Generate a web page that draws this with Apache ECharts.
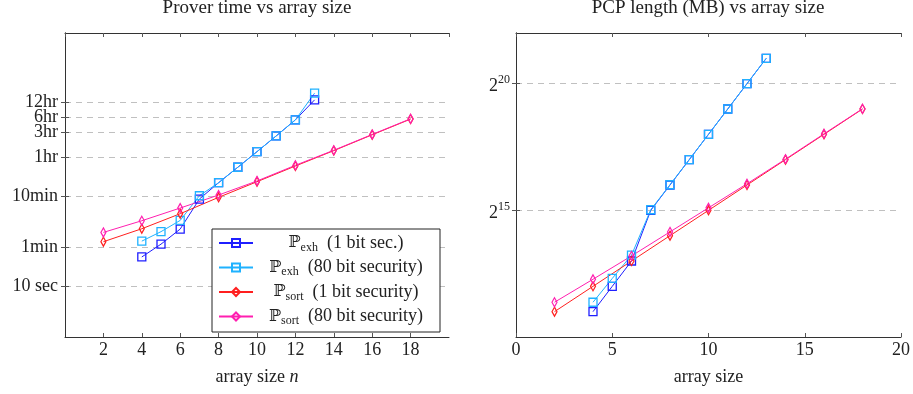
<!DOCTYPE html>
<html>
<head>
<meta charset="utf-8">
<script src="https://cdn.jsdelivr.net/npm/echarts@6/dist/echarts.min.js"></script>
<style>
html,body{margin:0;padding:0;background:#fff;}
#chart{width:913px;height:394px;}
</style>
</head>
<body>
<div id="chart"></div>
<script>
// ---- data ----
const seriesNames = ['exh1', 'exh80', 'sort1', 'sort80'];
const xExh = [4, 5, 6, 7, 8, 9, 10, 11, 12, 13];
const xSort = [2, 4, 6, 8, 10, 12, 14, 16, 18];
// prover time in seconds
const timeExh1 = [38, 68, 135, 528, 1110, 2240, 4550, 9300, 19300, 47900];
const timeExh80 = [78, 120, 200, 614, 1110, 2240, 4550, 9300, 19300, 65000];
const timeSort1 = [76, 137, 271, 571, 1160, 2370, 4770, 9800, 20000];
const timeSort80 = [116, 197, 351, 634, 1200, 2450, 4850, 9950, 20300];
// PCP length
const pcpExh1 = [2048, 4096, 8192, 32768, 65536, 131072, 262144, 524288, 1048576, 2097152];
const pcpExh80 = [2650, 5080, 9610, 33300, 66000, 131072, 262144, 524288, 1048576, 2097152];
const pcpSort1 = [2048, 4096, 8192, 16384, 32768, 65536, 131072, 262144, 524288];
const pcpSort80 = [2650, 4970, 9410, 18170, 35100, 67800, 133000, 265800, 528000];
// tick labels
const timeTickValues = [10, 60, 600, 3600, 10800, 21600, 43200];
const timeTickLabels = ['10 sec', '1min', '10min', '1hr', '3hr', '6hr', '12hr'];
const pcpTickValues = [32768, 1048576];
const pcpTickExponents = ['15', '20'];

// ---- styling ----
const FONT = 'Liberation Serif';
const colors = {exh1: '#1f1fff', exh80: '#1fb2ff', sort1: '#ff1f1f', sort80: '#ff1fb0'};
const legendRich = {
  p: {fontFamily: 'DejaVu Serif', fontSize: 16, color: '#222', align: 'center'},
  s: {fontFamily: FONT, fontSize: 12, color: '#222', padding: [9, 0, 0, 0], align: 'center'},
  t: {fontFamily: FONT, fontSize: 18, color: '#222', align: 'center'}
};
const legendText = {
  exh1: '{p|ℙ}{s|exh}{t|  (1 bit sec.)}',
  exh80: '{p|ℙ}{s|exh}{t|  (80 bit security)}',
  sort1: '{p|ℙ}{s|sort}{t|  (1 bit security)}',
  sort80: '{p|ℙ}{s|sort}{t|  (80 bit security)}'
};

function zip(xs, ys) { return xs.map((x, i) => [x, ys[i]]); }
function mk(name, xs, ys, axisIdx, symbol) {
  const isRect = symbol === 'rect';
  return {
    name: name, type: 'line', xAxisIndex: axisIdx, yAxisIndex: axisIdx,
    data: zip(xs, ys),
    symbol: symbol, symbolSize: isRect ? 8 : [5, 9],
    showAllSymbol: true,
    lineStyle: {color: colors[name], width: 1},
    itemStyle: {color: 'rgba(255,255,255,0)', borderColor: colors[name], borderWidth: 1.3},
    emphasis: {disabled: true},
    animation: false
  };
}

const labelStyle = {fontFamily: FONT, fontSize: 18, color: '#222'};
const lineAxis = {show: true, lineStyle: {color: '#333', width: 1}};
const tickIn = {show: true, inside: true, length: 4, lineStyle: {color: '#555'}};
const dashed = {show: true, lineStyle: {color: '#c0c0c0', type: [6, 5], width: 1}};

function nearestLabel(v, vals, labels) {
  let best = 0;
  for (let i = 1; i < vals.length; i++) {
    if (Math.abs(Math.log(vals[i]) - Math.log(v)) < Math.abs(Math.log(vals[best]) - Math.log(v))) best = i;
  }
  return labels[best];
}
// labels split over two overlapping left axes so that neighbouring labels are never auto-hidden
const timeLabelsMain = timeTickValues.filter((v, i) => i % 2 === 0 || i === timeTickValues.length - 2 ? i !== timeTickValues.length - 2 : true);
const timeLabelsMainVals = [10, 60, 600, 3600, 10800, 43200].filter(v => timeTickValues.includes(v));
const timeLabelsExtraVals = timeTickValues.filter(v => !timeLabelsMainVals.includes(v));

const option = {
  backgroundColor: '#fff',
  animation: false,
  title: [
    {text: 'Prover time vs array size', left: 257, textAlign: 'center', top: -1, padding: 0,
     textStyle: {fontFamily: FONT, fontSize: 19, fontWeight: 'normal', color: '#222'}},
    {text: 'PCP length (MB) vs array size', left: 708, textAlign: 'center', top: -1, padding: 0,
     textStyle: {fontFamily: FONT, fontSize: 19, fontWeight: 'normal', color: '#222'}}
  ],
  grid: [
    {left: 65, right: 464, top: 33, bottom: 57, containLabel: false, outerBoundsMode: 'none'},
    {left: 516, right: 12, top: 33, bottom: 57, containLabel: false, outerBoundsMode: 'none'}
  ],
  legend: {
    data: seriesNames,
    orient: 'vertical', left: 212, top: 229,
    width: 225,
    padding: [5, 6, 5, 6],
    itemGap: 5, itemWidth: 34, itemHeight: 10,
    backgroundColor: '#fff', borderColor: '#222', borderWidth: 1, borderRadius: 0,
    selectedMode: false,
    formatter: n => legendText[n],
    textStyle: {width: 176, lineHeight: 18, rich: legendRich}
  },
  xAxis: [
    {gridIndex: 0, type: 'value', min: 0, max: 20, interval: 2, position: 'bottom',
     axisLine: lineAxis, axisTick: tickIn, splitLine: {show: false},
     axisLabel: Object.assign({margin: 4, showMinLabel: false, showMaxLabel: false,
       formatter: v => (v === 0 || v === 20) ? '' : String(v)}, labelStyle),
     name: '{a|array size }{n|n}', nameLocation: 'middle', nameGap: 31,
     nameTextStyle: {rich: {a: {fontFamily: FONT, fontSize: 18, color: '#222'},
       n: {fontFamily: FONT, fontSize: 18, fontStyle: 'italic', color: '#222'}}}},
    {gridIndex: 0, type: 'value', min: 0, max: 20, interval: 2, position: 'top',
     axisLine: lineAxis, axisTick: tickIn, splitLine: {show: false}, axisLabel: {show: false}},
    {gridIndex: 1, type: 'value', min: 0, max: 20, interval: 5, position: 'bottom',
     axisLine: lineAxis, axisTick: tickIn, splitLine: {show: false},
     axisLabel: Object.assign({margin: 4}, labelStyle),
     name: 'array size', nameLocation: 'middle', nameGap: 31,
     nameTextStyle: {fontFamily: FONT, fontSize: 18, color: '#222'}},
    {gridIndex: 1, type: 'value', min: 0, max: 20, interval: 5, position: 'top',
     axisLine: lineAxis, axisTick: tickIn, splitLine: {show: false}, axisLabel: {show: false}}
  ],
  yAxis: [
    {gridIndex: 0, type: 'log', logBase: 10, min: 1, max: 1e6, position: 'left',
     axisLine: lineAxis,
     axisTick: Object.assign({customValues: timeTickValues}, tickIn),
     splitLine: dashed, minorTick: {show: false},
     axisLabel: Object.assign({customValues: timeLabelsMainVals, margin: 7,
       hideOverlap: false, showMinLabel: true, showMaxLabel: true,
       formatter: v => nearestLabel(v, timeTickValues, timeTickLabels)}, labelStyle)},
    {gridIndex: 0, type: 'log', logBase: 10, min: 1, max: 1e6, position: 'right',
     axisLine: lineAxis,
     axisTick: Object.assign({customValues: timeTickValues}, tickIn),
     splitLine: {show: false}, axisLabel: {show: false}},
    {gridIndex: 1, type: 'log', logBase: 2, min: 1024, max: 4194304, position: 'left',
     axisLine: lineAxis,
     axisTick: Object.assign({customValues: pcpTickValues}, tickIn),
     splitLine: dashed,
     axisLabel: {customValues: pcpTickValues, margin: 6, showMinLabel: true, showMaxLabel: true,
       formatter: v => '{b|2}{e|' + nearestLabel(v, pcpTickValues, pcpTickExponents) + '}',
       rich: {b: {fontFamily: FONT, fontSize: 18, color: '#222', padding: [6, 0, 0, 0]},
              e: {fontFamily: FONT, fontSize: 12, color: '#222', padding: [0, 0, 7, 0]}}}},
    {gridIndex: 1, type: 'log', logBase: 2, min: 1024, max: 4194304, position: 'right',
     axisLine: lineAxis,
     axisTick: Object.assign({customValues: pcpTickValues}, tickIn),
     splitLine: {show: false}, axisLabel: {show: false}},
    {gridIndex: 0, type: 'log', logBase: 10, min: 1, max: 1e6, position: 'left', offset: 0,
     axisLine: {show: false}, axisTick: {show: false}, splitLine: {show: false},
     axisLabel: Object.assign({customValues: timeLabelsExtraVals, margin: 7,
       showMinLabel: true, showMaxLabel: true,
       formatter: v => nearestLabel(v, timeTickValues, timeTickLabels)}, labelStyle)}
  ],
  series: [
    mk('exh1', xExh, timeExh1, 0, 'rect'),
    mk('exh80', xExh, timeExh80, 0, 'rect'),
    mk('sort1', xSort, timeSort1, 0, 'diamond'),
    mk('sort80', xSort, timeSort80, 0, 'diamond'),
    mk('exh1', xExh, pcpExh1, 2, 'rect'),
    mk('exh80', xExh, pcpExh80, 2, 'rect'),
    mk('sort1', xSort, pcpSort1, 2, 'diamond'),
    mk('sort80', xSort, pcpSort80, 2, 'diamond')
  ]
};

const chart = echarts.init(document.getElementById('chart'), null, {renderer: 'canvas'});
chart.setOption(option);
</script>
</body>
</html>
